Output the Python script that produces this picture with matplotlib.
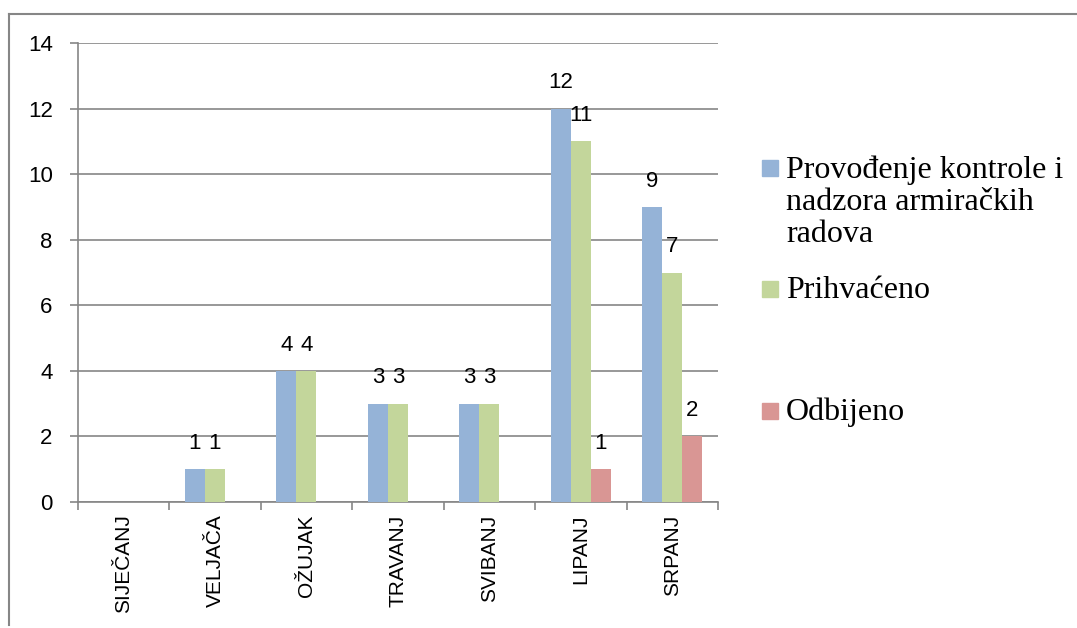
import matplotlib
matplotlib.use('Agg')
import matplotlib.pyplot as plt
import numpy as np
from matplotlib.patches import Rectangle
from matplotlib.lines import Line2D

# data
months = ['SIJEČANJ', 'VELJAČA', 'OŽUJAK', 'TRAVANJ', 'SVIBANJ', 'LIPANJ', 'SRPANJ']
provodenje = [0, 1, 4, 3, 3, 12, 9]
prihvaceno = [0, 1, 4, 3, 3, 11, 7]
odbijeno = [0, 0, 0, 0, 0, 1, 2]
series_names = ['Provođenje kontrole i\nnadzora armiračkih\nradova', 'Prihvaćeno', 'Odbijeno']
colors = ['#95B3D7', '#C3D69B', '#D99694']
yticks = [0, 2, 4, 6, 8, 10, 12, 14]

W, H = 1077, 628
fig = plt.figure(figsize=(W / 100, H / 100), dpi=100)
ax = fig.add_axes([77.7 / W, 1 - 502 / H, (718 - 77.7) / W, (502 - 43) / H])

grey = '#868686'
sans = 'Liberation Sans'
fs = 16
x = np.arange(len(months))
bw = 20 / 91.4
for k, vals in enumerate([provodenje, prihvaceno, odbijeno]):
    pos = x + (k - 1) * bw
    ax.bar(pos, vals, width=bw, color=colors[k], edgecolor='none', zorder=3)
    for px, v in zip(pos, vals):
        if v > 0:
            ax.annotate(str(v), (px, v), xytext=(0, 18.5), textcoords='offset points',
                        ha='center', va='center', fontsize=fs, family=sans)

ax.set_xlim(-0.5, len(months) - 0.5)
ax.set_ylim(0, 14)
ax.set_yticks(yticks)
ax.set_yticklabels([str(t) for t in yticks], fontsize=fs, family=sans)
ax.yaxis.grid(True, color=grey, linewidth=1.2, zorder=0)
ax.tick_params(axis='y', length=6, width=1.2, color=grey, pad=12)

ax.set_xticks(x)
ax.set_xticklabels(months, rotation=90, fontsize=15, family=sans, va='top')
ax.tick_params(axis='x', which='major', length=0, pad=9)
ax.set_xticks(np.arange(-0.5, len(months), 1), minor=True)
ax.tick_params(axis='x', which='minor', length=6, width=1.2, color=grey)

for s in ['top', 'right']:
    ax.spines[s].set_visible(False)
for s in ['left', 'bottom']:
    ax.spines[s].set_color(grey)
    ax.spines[s].set_linewidth(1.2)

# legend drawn by hand to keep Excel-like spacing
marker_y = [168, 289, 411]
text_y = [178, 298, 420]
for c, name, my, ty in zip(colors, series_names, marker_y, text_y):
    fig.add_artist(Rectangle((762 / W, 1 - (my + 8) / H), 16 / W, 16 / H,
                             transform=fig.transFigure, color=c))
    for i, line in enumerate(name.split('\n')):
        fig.text(786 / W, 1 - (ty + i * 32) / H, line, fontsize=23,
                 family='Liberation Serif', va='baseline', ha='left')

# outer frame (top and left visible)
fig.add_artist(Line2D([9 / W, 1], [1 - 14 / H, 1 - 14 / H], color=grey, lw=1.5,
                      transform=fig.transFigure))
fig.add_artist(Line2D([9 / W, 9 / W], [1 - 14 / H, 1 - 625 / H], color=grey, lw=1.5,
                      transform=fig.transFigure))

fig.savefig('out.png', dpi=100)
